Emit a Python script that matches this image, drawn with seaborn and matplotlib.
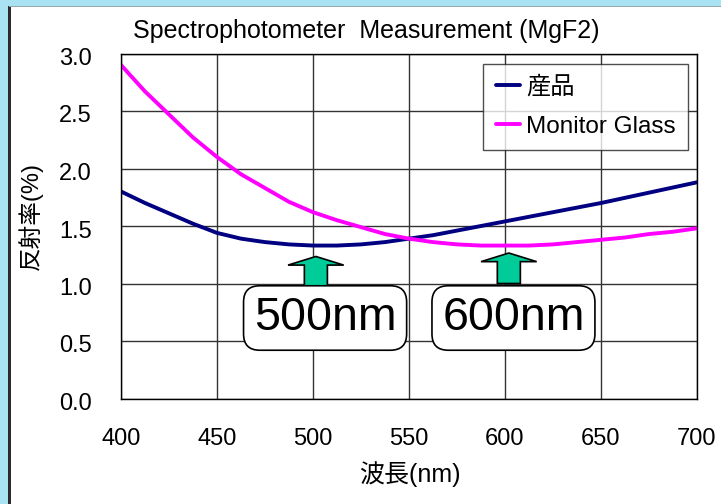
import matplotlib
matplotlib.use("Agg")
import matplotlib.pyplot as plt
import seaborn as sns
import pandas as pd
from matplotlib.patches import Rectangle, FancyArrow
from matplotlib.transforms import ScaledTranslation

wavelength = [400, 412.5, 425, 437.5, 450, 462.5, 475, 487.5, 500, 512.5, 525, 537.5, 550,
              562.5, 575, 587.5, 600, 612.5, 625, 637.5, 650, 662.5, 675, 687.5, 700]
product = [1.80, 1.70, 1.61, 1.52, 1.44, 1.39, 1.36, 1.34, 1.33, 1.33, 1.34, 1.36, 1.39,
           1.42, 1.46, 1.50, 1.54, 1.58, 1.62, 1.66, 1.70, 1.745, 1.79, 1.835, 1.88]
monitor = [2.90, 2.67, 2.47, 2.27, 2.10, 1.95, 1.83, 1.71, 1.62, 1.55, 1.49, 1.43, 1.39,
           1.36, 1.34, 1.33, 1.33, 1.33, 1.34, 1.36, 1.38, 1.40, 1.43, 1.45, 1.48]
series_names = ["産品", "Monitor Glass"]
colors = ["#000080", "#FF00FF"]
xticks = [400, 450, 500, 550, 600, 650, 700]
yticks = [0.0, 0.5, 1.0, 1.5, 2.0, 2.5, 3.0]
title = "Spectrophotometer  Measurement (MgF2)"
xlabel = "波長(nm)"
ylabel = "反射率(%)"
callout_labels = ["500nm", "600nm"]

df = pd.DataFrame({
    "wl": wavelength * 2,
    "R": product + monitor,
    "series": [series_names[0]] * len(wavelength) + [series_names[1]] * len(wavelength),
})

sns.set_theme(style="white")
plt.rcParams['font.family'] = ['Liberation Sans', 'Noto Sans CJK JP', 'DejaVu Sans']
plt.rcParams['text.color'] = 'black'
plt.rcParams['axes.labelcolor'] = 'black'

fig = plt.figure(figsize=(7.21, 5.04), dpi=100)
fig.patch.set_facecolor("#a9e3f3")
W, H = 721, 504
fig.patches.append(Rectangle((9 / W, 0), 1, (H - 6) / H, transform=fig.transFigure,
                             facecolor="white", edgecolor="none", zorder=-2))
fig.patches.append(Rectangle((8 / W, 0), 2.5 / W, (H - 6) / H, transform=fig.transFigure,
                             facecolor="#2a2a2a", edgecolor="none", zorder=-1))
fig.patches.append(Rectangle((9 / W, (H - 6.5) / H), 1, 1 / H, transform=fig.transFigure,
                             facecolor="#9aa8ad", edgecolor="none", zorder=-1))

ax = fig.add_axes([121 / W, 1 - 398.5 / H, (697 - 121) / W, (398.5 - 53.5) / H])
ax.set_zorder(3)
ax.set_facecolor("white")
sns.lineplot(data=df, x="wl", y="R", hue="series", palette=colors, linewidth=2.8,
             ax=ax, legend=True)

ax.set_xlim(400, 700)
ax.set_ylim(0, 3.0)
ax.set_xticks(xticks)
ax.set_yticks(yticks)
ax.set_xticklabels([str(v) for v in xticks], fontsize=17)
ax.set_yticklabels([f"{v:.1f}" for v in yticks], fontsize=17)
ax.tick_params(axis="both", length=0, colors="black")
ax.tick_params(axis="y", pad=21)
ax.tick_params(axis="x", pad=21)
shift = ScaledTranslation(0, -3 / 100, fig.dpi_scale_trans)
for lab in ax.get_yticklabels():
    lab.set_transform(lab.get_transform() + shift)
ax.grid(True, color="#333333", linewidth=1.0)
ax.set_axisbelow(True)
for s in ax.spines.values():
    s.set_color("black")
    s.set_linewidth(1.0)

ax.set_xlabel(xlabel, fontsize=18)
ax.set_ylabel(ylabel, fontsize=17)
ax.xaxis.set_label_coords(0.502, -0.181)
ax.yaxis.set_label_coords(-0.136, 0.529)
fig.text(366 / W, 1 - 31 / H, title, ha="center", va="center", fontsize=18)

leg = ax.legend(loc="upper right", bbox_to_anchor=(0.984, 0.9696), frameon=True,
                fancybox=False, fontsize=17.5, handlelength=1.0, handletextpad=0.25,
                borderpad=0.5, labelspacing=0.7, borderaxespad=0)
leg.get_frame().set_edgecolor("#222222")
leg.get_frame().set_linewidth(1.0)
for line in leg.get_lines():
    line.set_linewidth(2.8)

arrow_x = [501.5, 602]
arrow_bottom = [0.96, 1.00]
arrow_top = [1.235, 1.265]
for ax_x, yb, yt in zip(arrow_x, arrow_bottom, arrow_top):
    ax.add_patch(FancyArrow(ax_x, yb, 0, yt - yb, width=12, head_width=29, head_length=0.075,
                            length_includes_head=True, fc="#00CC99", ec="black", lw=1.2, zorder=5))

box_x = [506.3, 604.4]
for label, bx in zip(callout_labels, box_x):
    ax.text(bx, 0.70, label, ha="center", va="center", fontsize=33.5, zorder=6,
            bbox=dict(boxstyle="round,pad=0.22,rounding_size=0.35", fc="white", ec="black", lw=1.2))

fig.savefig("out.png", dpi=100, facecolor=fig.get_facecolor())
